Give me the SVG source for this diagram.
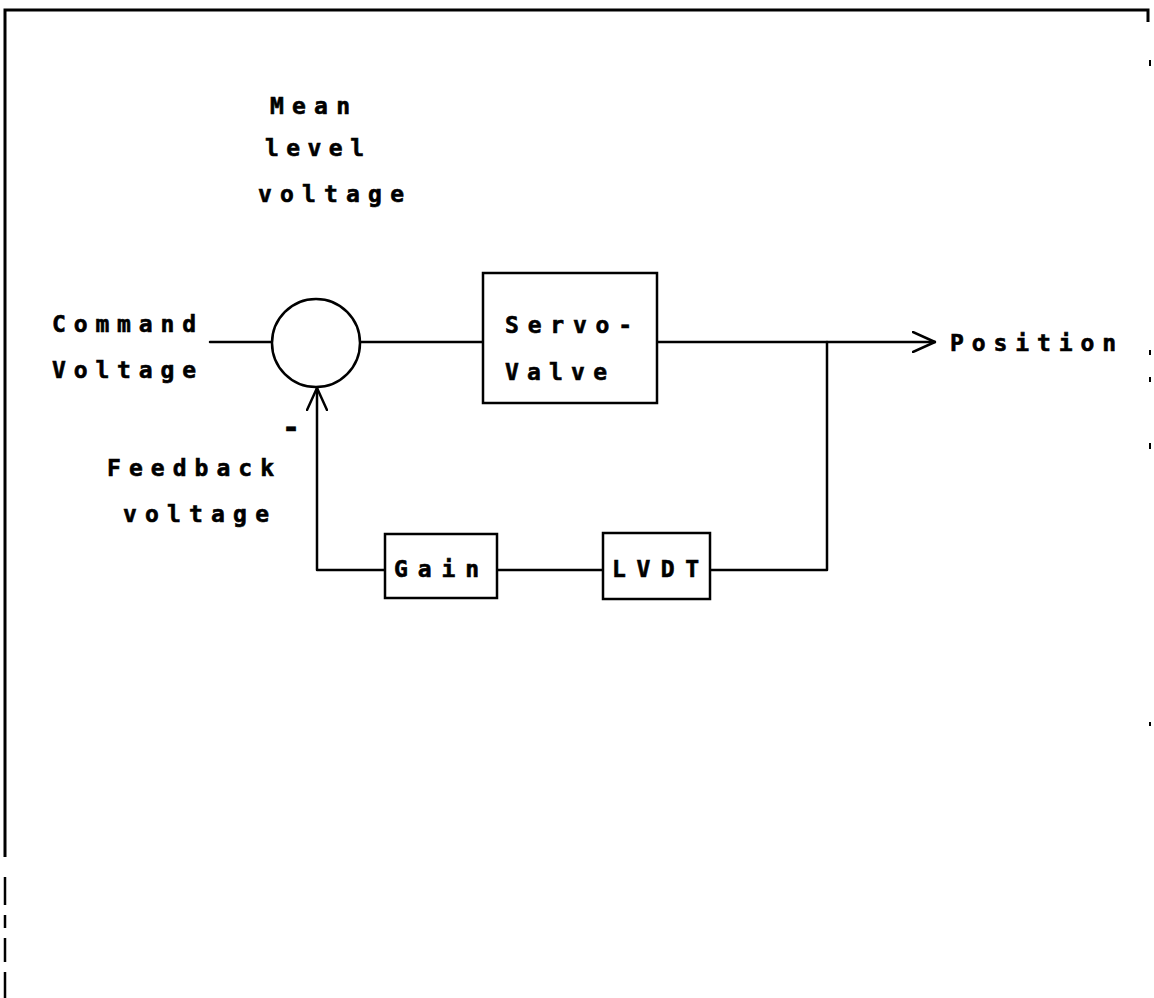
<svg xmlns="http://www.w3.org/2000/svg" width="1154" height="998" viewBox="0 0 1154 998">
<style>
.ln{fill:none;stroke:#000;stroke-width:2.5;stroke-linecap:round;stroke-linejoin:round}
.bd{fill:none;stroke:#000;stroke-width:2.5;stroke-linecap:butt}
.bx{fill:#fff;stroke:#000;stroke-width:2.5}
.t{font-family:"DejaVu Sans Mono","Liberation Mono",monospace;font-size:23px;font-weight:bold;fill:#000;stroke:#000;stroke-width:0.6}
</style>
<defs>
<marker id="arr" viewBox="0 0 24 22" refX="23" refY="11" markerWidth="24" markerHeight="22" markerUnits="userSpaceOnUse" orient="auto">
<path d="M1,1 L23,11 L1,21" fill="none" stroke="#000" stroke-width="2.5" stroke-linejoin="miter" stroke-linecap="round"/>
</marker>
</defs>
<rect width="1154" height="998" fill="#fff"/>
<g id="frame">
<path class="bd" d="M5,857 L5,10 L1148,10 L1148,22" style="stroke-width:3"/>
<path class="bd" d="M5,877 L5,905 M5,915 L5,928 M5,938 L5,962 M5,972 L5,998"/>
<path class="bd" d="M1150,60 L1150,66 M1150,350 L1150,355 M1150,377 L1150,382 M1150,443 L1150,449 M1150,722 L1150,726" style="stroke-width:2"/>
</g>
<g id="connectors">
<path class="ln" d="M210,342 L272,342"/>
<path class="ln" d="M360,342 L483,342"/>
<path class="ln" d="M657,342 L935,342" marker-end="url(#arr)"/>
<path class="ln" d="M827,342 L827,570 L710,570"/>
<path class="ln" d="M603,570 L497,570"/>
<path class="ln" d="M385,570 L317,570 L317,388" marker-end="url(#arr)"/>
</g>
<g id="summer">
<circle class="bx" cx="316" cy="343" r="44"/>
</g>
<g id="servo-valve">
<rect class="bx" x="483" y="273" width="174" height="130"/>
<text class="t" x="505" y="333" textLength="127" lengthAdjust="spacing">Servo-</text>
<text class="t" x="505" y="380" textLength="102" lengthAdjust="spacing">Valve</text>
</g>
<g id="gain">
<rect class="bx" x="385" y="534" width="112" height="64"/>
<text class="t" x="394" y="577" textLength="85" lengthAdjust="spacing">Gain</text>
</g>
<g id="lvdt">
<rect class="bx" x="603" y="533" width="107" height="66"/>
<text class="t" x="612" y="577" textLength="87" lengthAdjust="spacing">LVDT</text>
</g>
<g id="labels">
<text class="t" x="270" y="114" textLength="80" lengthAdjust="spacing">Mean</text>
<text class="t" x="265" y="156" textLength="99" lengthAdjust="spacing">level</text>
<text class="t" x="258" y="202" textLength="146" lengthAdjust="spacing">voltage</text>
<text class="t" x="52" y="332" textLength="144" lengthAdjust="spacing">Command</text>
<text class="t" x="52" y="378" textLength="144" lengthAdjust="spacing">Voltage</text>
<text class="t" x="950" y="351" textLength="166" lengthAdjust="spacing">Position</text>
<text class="t" x="282" y="438" style="font-size:30px">-</text>
<text class="t" x="107" y="476" textLength="167" lengthAdjust="spacing">Feedback</text>
<text class="t" x="123" y="522" textLength="146" lengthAdjust="spacing">voltage</text>
</g>
</svg>
